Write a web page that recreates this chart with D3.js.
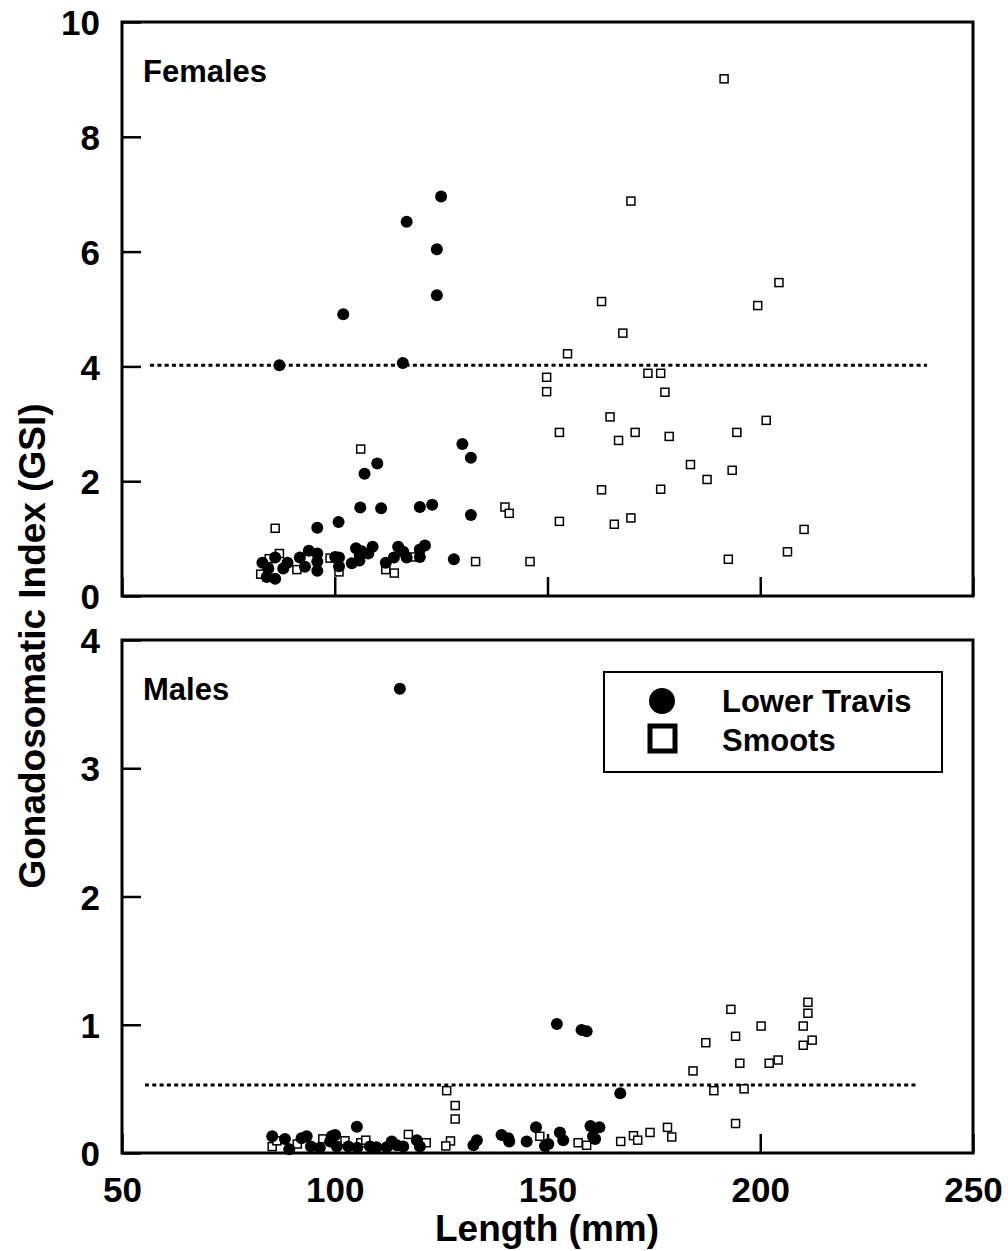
<!DOCTYPE html>
<meta charset="utf-8">
<style>
  body { margin: 0; background: #fff; }
  text { font-family: "Liberation Sans", Arial, sans-serif; font-weight: bold; fill: #000; }
</style>
<svg width="1008" height="1251"></svg>
<script src="https://d3js.org/d3.v7.min.js"></script>
<script>

// [length (mm), GSI]
var femalesTravis = [
  [125.0,6.96],[116.9,6.52],[124.0,6.04],[124.0,5.24],[102.0,4.91],
  [87.0,4.02],[116.0,4.06],[130.0,2.65],[132.0,2.41],[110.0,2.31],[107.0,2.13],
  [106.0,1.54],[110.9,1.53],[120.0,1.55],[122.9,1.59],[132.0,1.41],[95.9,1.19],[100.9,1.29],[128.0,0.64],
  [83.0,0.58],[86.0,0.67],[84.4,0.48],[84.0,0.33],[86.0,0.30],[87.9,0.48],[88.9,0.58],[91.8,0.67],
  [93.0,0.51],[93.9,0.79],[95.9,0.74],[95.9,0.60],[95.9,0.44],[100.1,0.68],[101.0,0.67],[101.0,0.52],
  [104.0,0.57],[105.0,0.83],[105.9,0.71],[105.8,0.62],[106.3,0.78],[107.9,0.74],[108.9,0.86],[112.0,0.58],
  [113.9,0.67],[114.9,0.86],[116.1,0.77],[116.9,0.67],[120.0,0.68],[120.0,0.81],[121.2,0.88]
];
var femalesSmoots = [
  [191.5,9.01],[169.6,6.88],[162.7,5.13],[204.4,5.46],[199.4,5.06],[167.7,4.58],[154.7,4.22],
  [149.8,3.81],[149.8,3.56],[173.6,3.88],[176.6,3.88],[177.6,3.55],[164.7,3.12],[152.8,2.85],
  [170.6,2.85],[166.7,2.71],[178.6,2.78],[194.5,2.85],[201.4,3.06],[183.6,2.29],[193.4,2.19],
  [187.5,2.03],[162.7,1.85],[176.6,1.86],[140.0,1.55],[141.0,1.44],[152.8,1.30],[165.7,1.25],
  [169.6,1.36],[210.3,1.16],[206.4,0.77],[145.9,0.60],[192.5,0.64],
  [106.1,2.56],[86.0,1.18],[133.1,0.60],[87.0,0.74],[82.6,0.38],[91.1,0.46],[98.9,0.66],
  [101.0,0.42],[112.0,0.46],[114.0,0.40],[84.6,0.65],[118.1,0.68]
];
var malesTravis = [
  [115.3,3.62],[152.2,1.005],[158.0,0.96],[159.2,0.95],[167.1,0.465],
  [85.3,0.13],[88.3,0.11],[89.3,0.03],[92.2,0.115],[93.4,0.13],[94.4,0.05],[96.5,0.04],[98.9,0.09],
  [99.3,0.13],[100.1,0.14],[100.5,0.05],[103.2,0.05],[105.2,0.205],[105.3,0.04],[108.3,0.05],
  [109.8,0.045],[112.2,0.045],[113.4,0.09],[114.6,0.06],[116.1,0.05],[119.3,0.10],[120.0,0.05],
  [132.6,0.06],[133.4,0.10],[139.2,0.14],[140.8,0.115],[141.0,0.09],[145.1,0.09],[147.3,0.20],
  [149.4,0.055],[150.2,0.07],[152.9,0.16],[153.7,0.10],[160.1,0.21],[162.2,0.20],[160.7,0.13],[161.2,0.11]
];
var malesSmoots = [
  [85.3,0.05],[86.4,0.095],[91.2,0.07],[97.2,0.11],[102.4,0.095],[106.1,0.08],[107.3,0.10],
  [117.3,0.145],[121.5,0.08],[126.3,0.486],[128.3,0.37],[128.3,0.265],[127.2,0.094],[126.1,0.055],
  [148.2,0.13],[157.2,0.08],[159.2,0.06],[167.2,0.09],[170.2,0.135],[171.2,0.10],[174.1,0.16],
  [178.2,0.20],[179.2,0.125],[184.2,0.64],
  [193.1,1.12],[211.2,1.175],[211.2,1.09],[200.2,0.99],[210.1,0.99],[187.2,0.86],[194.2,0.91],
  [212.2,0.88],[210.1,0.84],[195.2,0.70],[202.1,0.70],[204.2,0.725],[189.1,0.486],[196.2,0.50],[194.2,0.23]
];

// dotted reference lines: [GSI, from length, to length]
var femalesRef = [4.02, 56.6, 239.2];
var malesRef = [0.53, 55.4, 236.8];

var xTicks = [50, 100, 150, 200, 250];
var femalesTicks = [0, 2, 4, 6, 8, 10];
var malesTicks = [0, 1, 2, 3, 4];
var seriesNames = ["Lower Travis", "Smoots"];

var svg = d3.select("svg");
var x = d3.scaleLinear().domain([50, 250]).range([122, 973]);
var yTop = d3.scaleLinear().domain([0, 10]).range([596, 22]);
var yBot = d3.scaleLinear().domain([0, 4]).range([1153, 640]);

function panel(y, yTicks, travis, smoots, ref, label, showX) {
  var g = svg.append("g");
  var y0 = y.range()[0], y1 = y.range()[1];

  // y axis, ticks inward
  var ya = g.append("g")
      .attr("transform", "translate(122,0)")
      .call(d3.axisLeft(y).tickValues(yTicks).tickSize(-19).tickPadding(22).tickFormat(d3.format("d")));
  ya.select(".domain").remove();
  ya.selectAll("line").attr("stroke", "#000").attr("stroke-width", 2.5);
  ya.selectAll("text").style("font-size", "35px").attr("dy", "0.36em");

  var xa = g.append("g")
      .attr("transform", "translate(0," + y0 + ")")
      .call(d3.axisBottom(x).tickValues(xTicks).tickSize(-19).tickPadding(24)
        .tickFormat(showX ? d3.format("d") : function() { return ""; }));
  xa.select(".domain").remove();
  xa.selectAll("line").attr("stroke", "#000").attr("stroke-width", 2.5);
  xa.selectAll("text").style("font-size", "35px");

  // reference line
  g.append("line")
      .attr("x1", x(ref[1])).attr("x2", x(ref[2]))
      .attr("y1", y(ref[0])).attr("y2", y(ref[0]))
      .attr("stroke", "#000").attr("stroke-width", 3)
      .attr("stroke-dasharray", "4,3.3");

  g.append("g").selectAll("rect")
    .data(smoots)
    .enter().append("rect")
      .attr("x", function(d) { return x(d[0]) - 4; })
      .attr("y", function(d) { return y(d[1]) - 4; })
      .attr("width", 8).attr("height", 8)
      .attr("fill", "#fff").attr("stroke", "#000").attr("stroke-width", 1.5);

  g.append("g").selectAll("circle")
    .data(travis)
    .enter().append("circle")
      .attr("cx", function(d) { return x(d[0]); })
      .attr("cy", function(d) { return y(d[1]); })
      .attr("r", 6)
      .attr("fill", "#000");

  g.append("rect")
      .attr("x", 122).attr("y", y1)
      .attr("width", 851).attr("height", y0 - y1)
      .attr("fill", "none").attr("stroke", "#000").attr("stroke-width", 3);

  g.append("text")
      .attr("x", 143).attr("y", y1 + 60)
      .style("font-size", "31px")
      .text(label);
  return g;
}

panel(yTop, femalesTicks, femalesTravis, femalesSmoots, femalesRef, "Females", false);
panel(yBot, malesTicks, malesTravis, malesSmoots, malesRef, "Males", true);

// legend
var lg = svg.append("g");
lg.append("rect")
    .attr("x", 604).attr("y", 672).attr("width", 338).attr("height", 100)
    .attr("fill", "#fff").attr("stroke", "#000").attr("stroke-width", 2);
lg.append("circle").attr("cx", 662).attr("cy", 701).attr("r", 13).attr("fill", "#000");
lg.append("rect").attr("x", 650).attr("y", 726).attr("width", 25).attr("height", 25)
    .attr("fill", "#fff").attr("stroke", "#000").attr("stroke-width", 5);
lg.selectAll("text.lab")
  .data(seriesNames)
  .enter().append("text")
    .attr("class", "lab")
    .attr("x", 722)
    .attr("y", function(d, i) { return 712 + i * 38.5; })
    .style("font-size", "31px")
    .text(function(d) { return d; });

// axis titles
svg.append("text")
    .attr("x", 547).attr("y", 1241)
    .attr("text-anchor", "middle")
    .style("font-size", "37px")
    .text("Length (mm)");
svg.append("text")
    .attr("transform", "translate(45,646) rotate(-90)")
    .attr("text-anchor", "middle")
    .style("font-size", "37px")
    .text("Gonadosomatic Index (GSI)");

</script>
